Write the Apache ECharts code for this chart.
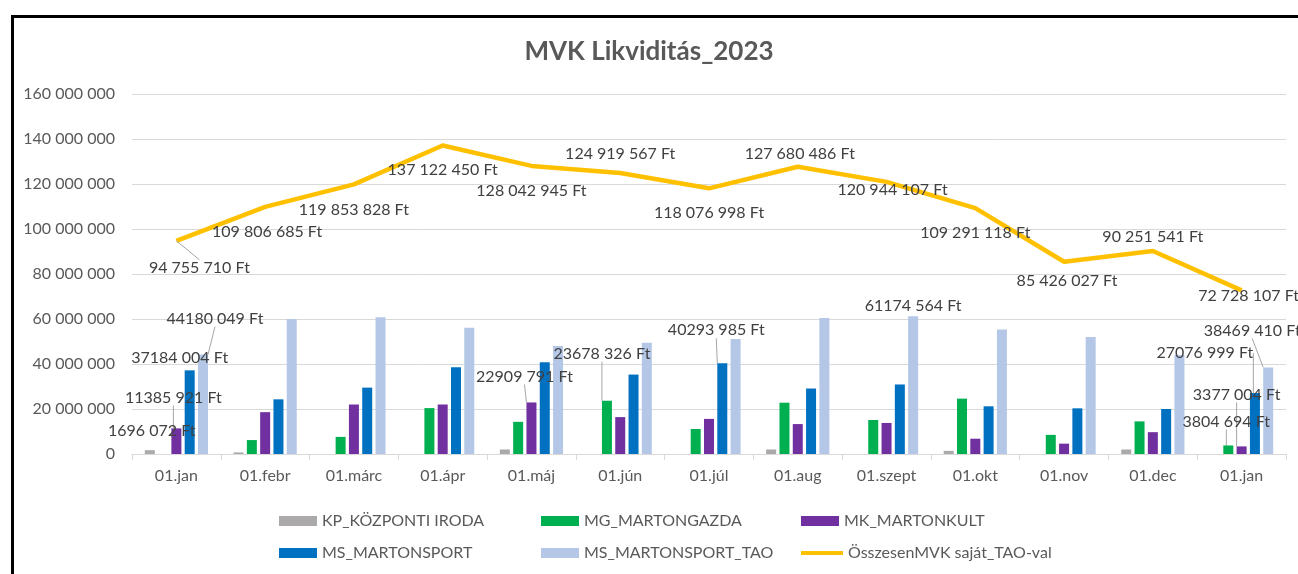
<!DOCTYPE html>
<html>
<head>
<meta charset="utf-8">
<script src="https://cdn.jsdelivr.net/npm/echarts@6/dist/echarts.min.js"></script>
<style>
  html, body { margin: 0; padding: 0; background: #fff; }
  #chart { width: 1298px; height: 574px; }
</style>
</head>
<body>
<div id="chart"></div>
<script>
// hónapok
const months = ['01.jan', '01.febr', '01.márc', '01.ápr', '01.máj', '01.jún', '01.júl',
  '01.aug', '01.szept', '01.okt', '01.nov', '01.dec', '01.jan'];

const kpKozponti = [1696072, 700000, 0, 0, 2000000, 0, 0, 2000000, 0, 1400000, 0, 2000000, 0];
const mgMartongazda = [0, 6200000, 7600000, 20400000, 14300000, 23678326, 11100000, 22800000, 15100000, 24600000, 8500000, 14500000, 3804694];
const mkMartonkult = [11385921, 18600000, 22000000, 22000000, 22909791, 16400000, 15600000, 13300000, 13800000, 6800000, 4600000, 9700000, 3377004];
const msMartonsport = [37184004, 24300000, 29500000, 38600000, 40800000, 35300000, 40293985, 29100000, 30900000, 21200000, 20300000, 20000000, 27076999];
const msTao = [44180049, 60000000, 60800000, 56100000, 48000000, 49500000, 51100000, 60500000, 61174564, 55300000, 52000000, 44000000, 38469410];
const osszesen = [94755710, 109806685, 119853828, 137122450, 128042945, 124919567, 118076998,
  127680486, 120944107, 109291118, 85426027, 90251541, 72728107];

const seriesNames = ['KP_KÖZPONTI IRODA', 'MG_MARTONGAZDA', 'MK_MARTONKULT',
  'MS_MARTONSPORT', 'MS_MARTONSPORT_TAO', 'ÖsszesenMVK saját_TAO-val'];
const colors = ['#ABA9A9', '#00B050', '#7030A0', '#0070C0', '#B4C7E7', '#FFC000'];

// címkék eltolása (dx, dy) + vezetővonal
const lineLabelShift = [[23, 27, true], [2, 25], [0, 26], [0, 24], [0, 25], [0, -19], [0, 25],
  [2, -13], [6, 8], [0, 25], [3, 19], [0, -14], [7, 6]];
// [sorozat, index, dx, dy, vezetővonal]
const barLabelShift = [
  [0, 0, 2, -19, false], [2, 0, -3, -31, true], [3, 0, -10, -12, false], [4, 0, 12, -36, true],
  [2, 4, -7, -26, true], [1, 5, -5, -47, true], [3, 6, -6, -33, true], [4, 8, 0, -11, false],
  [4, 12, -16, -37, true], [3, 12, -50, -40, true], [2, 12, -5, -52, true], [1, 12, -2, -24, true]
];

const FONT = 'Lato, "Open Sans", sans-serif';
const TXT = '#404040';

function grp(v) {
  return String(Math.round(v)).replace(/\B(?=(\d{3})+(?!\d))/g, ' ');
}
function barFmt(v) {
  const s = String(Math.round(v));
  return s.slice(0, -3) + ' ' + s.slice(-3) + ' Ft';
}

const barSets = [kpKozponti, mgMartongazda, mkMartonkult, msMartonsport, msTao];

const series = barSets.map((vals, si) => ({
  name: seriesNames[si],
  type: 'bar',
  barWidth: 10,
  barGap: '33%',
  itemStyle: { color: colors[si] },
  label: {
    show: false, position: 'top', distance: 0, verticalAlign: 'middle',
    formatter: p => barFmt(p.value), color: TXT, fontFamily: FONT, fontSize: 16
  },
  labelLine: { show: false, lineStyle: { color: '#A6A6A6', width: 1 } },
  labelLayout: p => {
    const h = barLabelShift.find(b => b[0] === si && b[1] === p.dataIndex);
    return h ? { dx: h[2], dy: h[3] } : {};
  },
  data: vals.map((v, i) => {
    const h = barLabelShift.find(b => b[0] === si && b[1] === i);
    if (!h) return v;
    return { value: v, label: { show: true }, labelLine: { show: h[4] } };
  })
}));

series.push({
  name: seriesNames[5],
  type: 'line',
  symbol: 'circle',
  symbolSize: 0.1,
  lineStyle: { color: colors[5], width: 4.5 },
  itemStyle: { color: colors[5] },
  z: 5,
  label: {
    show: true, position: 'top', distance: 0, verticalAlign: 'middle',
    formatter: p => grp(p.value) + ' Ft', color: TXT, fontFamily: FONT, fontSize: 16
  },
  labelLine: { show: false, lineStyle: { color: '#A6A6A6', width: 1 } },
  labelLayout: p => ({ dx: lineLabelShift[p.dataIndex][0], dy: lineLabelShift[p.dataIndex][1] }),
  data: osszesen.map((v, i) => lineLabelShift[i][2] ? { value: v, labelLine: { show: true } } : v)
});

const legendCols = [274, 536, 796];
const legends = seriesNames.map((n, i) => ({
  data: [{ name: n, icon: 'rect' }],
  left: legendCols[i % 3],
  top: i < 3 ? 508 : 540,
  itemWidth: i === 5 ? 42 : 38,
  itemHeight: i === 5 ? 4 : 10,
  itemGap: 0,
  textStyle: { color: '#595959', fontFamily: FONT, fontSize: 16 }
}));

const chart = echarts.init(document.getElementById('chart'));
chart.setOption({
  animation: false,
  backgroundColor: '#fff',
  color: colors,
  title: {
    text: 'MVK Likviditás_2023',
    left: 'center',
    top: 34,
    textStyle: { color: '#595959', fontFamily: FONT, fontSize: 26, fontWeight: 'bold' }
  },
  graphic: [{
    type: 'rect', left: 10, top: 14, silent: true,
    shape: { width: 1300, height: 600 },
    style: { fill: 'none', stroke: '#000', lineWidth: 3 }
  }],
  legend: legends,
  grid: { left: 132, right: 12, top: 94, bottom: 120, containLabel: false },
  xAxis: {
    type: 'category',
    data: months,
    axisLine: { lineStyle: { color: '#D9D9D9', width: 1 } },
    axisTick: { show: true, length: 6, lineStyle: { color: '#D9D9D9' } },
    axisLabel: { color: '#595959', fontFamily: FONT, fontSize: 16, margin: 14 }
  },
  yAxis: {
    type: 'value',
    min: 0,
    max: 160000000,
    interval: 20000000,
    axisLine: { show: false },
    axisTick: { show: false },
    splitLine: { lineStyle: { color: '#D9D9D9', width: 1 } },
    axisLabel: { color: '#595959', fontFamily: FONT, fontSize: 16, margin: 17, formatter: v => grp(v) }
  },
  series: series
});
</script>
</body>
</html>
